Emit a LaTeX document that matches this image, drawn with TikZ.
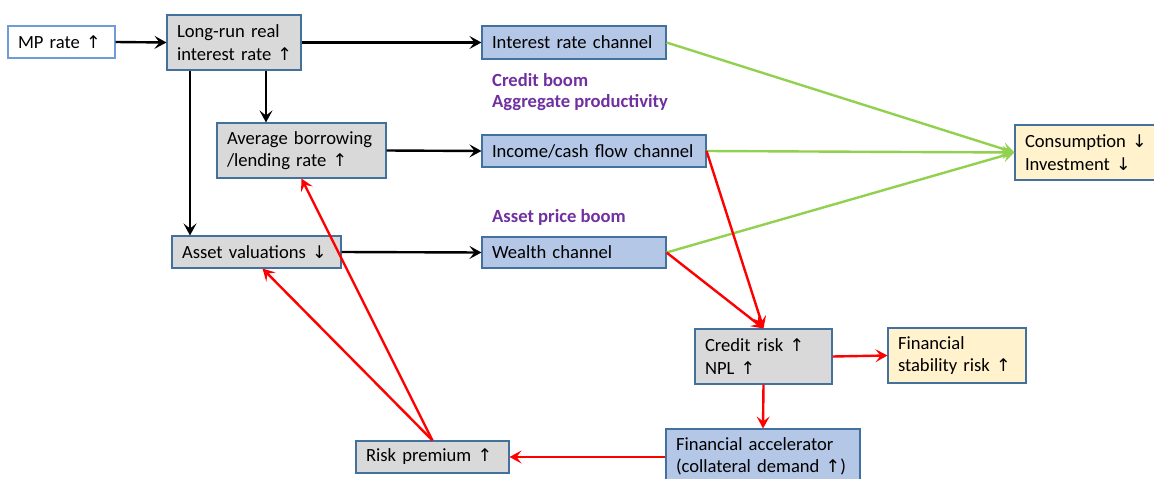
\documentclass[tikz,border=0pt]{standalone}
\usepackage{fontspec}
\setmainfont{Carlito}
\newfontfamily\arrfont{DejaVu Sans}
\usetikzlibrary{arrows.meta,calc}
\newcommand\uar{~{\arrfont\fontsize{17.5}{22}\selectfont ↑}}
\newcommand\dar{~{\arrfont\fontsize{17.5}{22}\selectfont ↓}}
\definecolor{gfill}{HTML}{D9D9D9}
\definecolor{bfill}{HTML}{B4C7E7}
\definecolor{yfill}{HTML}{FFF2CC}
\definecolor{bord}{HTML}{41719C}
\definecolor{lbord}{HTML}{6F9BD8}
\definecolor{purp}{HTML}{7030A0}
\definecolor{grn}{HTML}{92D050}
\tikzset{
  box/.style={draw=bord, line width=1.1pt, inner xsep=10pt, inner ysep=0pt, align=left, font=\fontsize{18.6}{22.5}\selectfont},
  gbox/.style={box, fill=gfill},
  bbox/.style={box, fill=bfill},
  ybox/.style={box, fill=yfill},
  wbox/.style={box, fill=white, draw=lbord},
  blk/.style={line width=2.4pt, -{Stealth[length=12pt,width=13pt,inset=5pt]}},
  redar/.style={blk, draw=red, color=red},
  grnar/.style={blk, draw=grn, color=grn},
  lbl/.style={font=\fontsize{18.6}{22}\selectfont\bfseries, text=purp, anchor=west, inner sep=0pt}
}
\begin{document}
\begin{tikzpicture}[x=1pt,y=-1pt]
\useasboundingbox (0,0) rectangle (1154,479);
\clip (0,0) rectangle (1154,479);
\node[wbox, minimum width=107pt, minimum height=32pt, text width=87pt] (mp) at (61.5,42) {\mbox{MP rate\uar}};
\node[gbox, minimum width=134pt, minimum height=55pt, text width=114pt] (lr) at (234,42.5) {\mbox{Long-run real}\\\mbox{interest rate\uar}};
\node[bbox, minimum width=184pt, minimum height=33pt, text width=164pt] (irc) at (574,42.5) {\mbox{Interest rate channel}};
\node[gbox, minimum width=169pt, minimum height=55pt, text width=149pt] (avg) at (301.5,150.5) {\mbox{Average borrowing}\\\mbox{/lending rate\uar}};
\node[bbox, minimum width=224pt, minimum height=32pt, text width=204pt] (inc) at (594,151) {\mbox{Income/cash flow channel}};
\node[gbox, minimum width=169pt, minimum height=32pt, text width=149pt] (av) at (256.5,252) {\mbox{Asset valuations\dar}};
\node[bbox, minimum width=184pt, minimum height=31pt, text width=164pt] (wc) at (574,252.5) {\mbox{Wealth channel}};
\node[ybox, minimum width=140pt, minimum height=55pt, text width=120pt] (cons) at (1085,152.5) {\mbox{Consumption\dar}\\\mbox{Investment\dar}};
\node[gbox, minimum width=137pt, minimum height=55pt, text width=117pt] (cr) at (763.5,356.5) {\mbox{Credit risk\uar}\\\mbox{NPL\uar}};
\node[ybox, minimum width=138pt, minimum height=55pt, text width=118pt] (fsr) at (957,355.5) {\mbox{Financial}\\\mbox{stability risk\uar}};
\node[bbox, minimum width=194pt, minimum height=55pt, text width=174pt] (fa) at (763,456.5) {\mbox{Financial accelerator}\\\mbox{(collateral demand\uar)}};
\node[gbox, minimum width=153pt, minimum height=32pt, text width=133pt] (rp) at (432.5,457) {\mbox{Risk premium\uar}};

\node[lbl] (cb) at (492,80) {Credit boom};
\node[lbl] (ap) at (492,103) {Aggregate productivity};
\node[lbl] (apb) at (492,217) {Asset price boom};

\draw[blk] (mp.east) -- (lr.west);
\draw[blk] (lr.east) -- (irc.west);
\draw[blk] ($(lr.south)+(32,0)$) -- ($(avg.north)+(-35.5,0)$);
\draw[blk] ($(lr.south)+(-44,0)$) -- ($(av.north)+(-66.5,0)$);
\draw[blk] (avg.east) -- (inc.west);
\draw[blk] (av.east) -- (wc.west);

\draw[grnar] (irc.east) -- (cons.west);
\draw[grnar] (inc.east) -- (cons.west);
\draw[grnar] (wc.east) -- (cons.west);

\draw[redar] (inc.east) -- (cr.north);
\draw[redar] (wc.east) -- (cr.north);
\draw[redar] (cr.east) -- (fsr.west);
\draw[redar] (cr.south) -- (fa.north);
\draw[redar] (fa.west |- rp.east) -- (rp.east);
\draw[redar] (rp.north) -- ($(av.south)+(6,0)$);
\draw[redar] (rp.north) -- (avg.south);
\end{tikzpicture}
\end{document}
